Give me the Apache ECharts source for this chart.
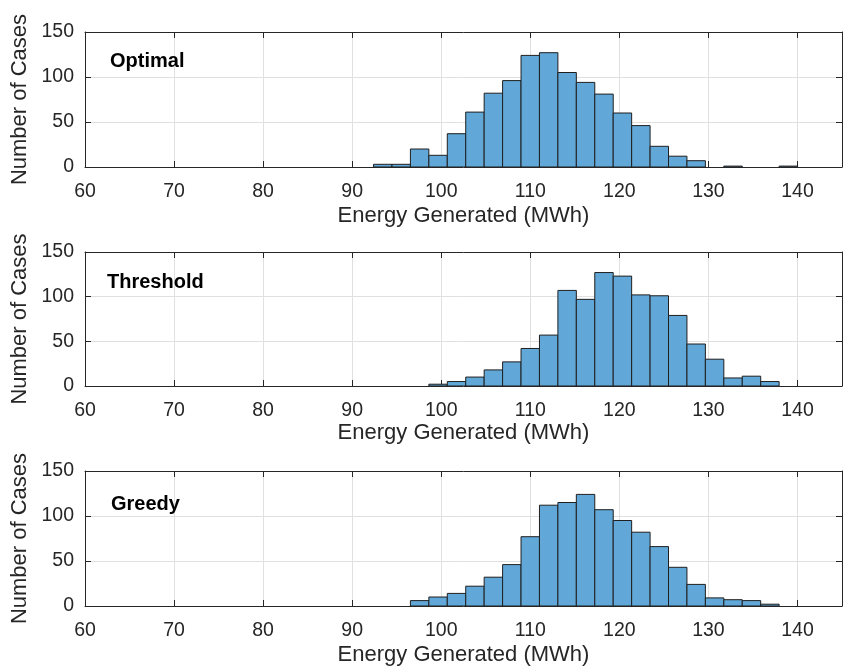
<!DOCTYPE html>
<html>
<head>
<meta charset="utf-8">
<script src="https://cdn.jsdelivr.net/npm/echarts@6/dist/echarts.min.js"></script>
<style>html,body{margin:0;padding:0;background:#fff;}#c{width:847px;height:667px;}</style>
</head>
<body>
<div id="c"></div>
<script>
// Histogram bin edges (MWh)
const binEdges = [92.40, 94.47, 96.54, 98.61, 100.68, 102.75, 104.82, 106.89, 108.96, 111.03, 113.10, 115.17,
                  117.24, 119.31, 121.38, 123.45, 125.52, 127.59, 129.66, 131.73, 133.80, 135.87, 137.94, 140.01];
// Counts per bin
const optimalCounts   = [3, 3, 20, 13, 37, 61, 82, 96, 124, 127, 105, 94, 81, 60, 46, 23, 12, 7, 0, 1, 0, 0, 1];
const thresholdCounts = [0, 0, 0, 2, 5, 10, 18, 27, 42, 57, 107, 97, 127, 123, 102, 101, 79, 47, 30, 9, 11, 5, 0];
const greedyCounts    = [0, 0, 6, 10, 14, 22, 32, 46, 77, 112, 115, 124, 107, 95, 82, 66, 43, 24, 9, 7, 6, 2, 0];
const panelNames = ['Optimal', 'Threshold', 'Greedy'];
const xTicks = [60, 70, 80, 90, 100, 110, 120, 130, 140];
const yTicks = [0, 50, 100, 150];
const xLabel = 'Energy Generated (MWh)';
const yLabel = 'Number of Cases';

const allCounts = [optimalCounts, thresholdCounts, greedyCounts];
const FONT = '"Liberation Sans", Arial, Helvetica, sans-serif';
const AX = '#262626';
const GRIDC = '#e0e0e0';
const grids = [
  {left: 85, right: 5, top: 32, height: 135},
  {left: 85, right: 5, top: 252, height: 134},
  {left: 85, right: 5, top: 471, height: 135}
];
const xNameGaps = [38, 33, 38];
const xAxes = [], yAxes = [], series = [], graphics = [];
const titlePos = [[110, 61], [107, 282.5], [111, 504]];

function renderItem(params, api) {
  const x0 = api.value(0), x1 = api.value(1), c = api.value(2);
  const p0 = api.coord([x0, c]);
  const p1 = api.coord([x1, 0]);
  return {
    type: 'rect',
    shape: {x: p0[0], y: p0[1], width: p1[0] - p0[0], height: p1[1] - p0[1]},
    style: {fill: '#61a7d7', stroke: '#1f1f1f', lineWidth: 1}
  };
}

for (let i = 0; i < 3; i++) {
  const base = {min: xTicks[0], max: 145, interval: 10, gridIndex: i, type: 'value'};
  xAxes.push(Object.assign({}, base, {
    position: 'bottom',
    axisLine: {show: true, onZero: false, lineStyle: {color: AX, width: 1}},
    axisTick: {show: true, inside: true, length: 6, lineStyle: {color: AX}},
    axisLabel: {show: true, color: AX, fontSize: 19.5, fontFamily: FONT, margin: 15,
      formatter: v => (xTicks.indexOf(v) >= 0 ? String(v) : '')},
    splitLine: {show: true, lineStyle: {color: GRIDC, width: 1}},
    name: xLabel, nameLocation: 'middle', nameGap: xNameGaps[i],
    nameTextStyle: {color: AX, fontSize: 22, fontFamily: FONT}
  }));
  xAxes.push(Object.assign({}, base, {
    position: 'top',
    axisLine: {show: true, onZero: false, lineStyle: {color: AX, width: 1}},
    axisTick: {show: true, inside: true, length: 6, lineStyle: {color: AX}},
    axisLabel: {show: false}, splitLine: {show: false}
  }));
  const ybase = {min: 0, max: 150, interval: 50, gridIndex: i, type: 'value'};
  yAxes.push(Object.assign({}, ybase, {
    position: 'left',
    axisLine: {show: true, onZero: false, lineStyle: {color: AX, width: 1}},
    axisTick: {show: true, inside: true, length: 6, lineStyle: {color: AX}},
    axisLabel: {show: true, color: AX, fontSize: 19.5, fontFamily: FONT, margin: 11,
      formatter: v => (yTicks.indexOf(v) >= 0 ? String(v) : '')},
    splitLine: {show: true, lineStyle: {color: GRIDC, width: 1}},
    name: yLabel, nameLocation: 'middle', nameGap: 47, nameRotate: 90,
    nameTextStyle: {color: AX, fontSize: 22, fontFamily: FONT}
  }));
  yAxes.push(Object.assign({}, ybase, {
    position: 'right',
    axisLine: {show: true, onZero: false, lineStyle: {color: AX, width: 1}},
    axisTick: {show: true, inside: true, length: 6, lineStyle: {color: AX}},
    axisLabel: {show: false}, splitLine: {show: false}
  }));
  const data = [];
  const counts = allCounts[i];
  for (let k = 0; k < counts.length; k++) {
    if (counts[k] > 0) data.push([binEdges[k], binEdges[k + 1], counts[k]]);
  }
  series.push({
    type: 'custom', renderItem: renderItem, xAxisIndex: 2 * i, yAxisIndex: 2 * i,
    encode: {x: [0, 1], y: 2}, data: data, clip: true, silent: true, z: 3
  });
  graphics.push({
    type: 'text', x: titlePos[i][0], y: titlePos[i][1], z: 10,
    style: {text: panelNames[i], fill: '#000', font: 'bold 20px ' + FONT, textAlign: 'left', textVerticalAlign: 'middle'}
  });
}

const chart = echarts.init(document.getElementById('c'), null, {renderer: 'canvas'});
chart.setOption({
  animation: false,
  backgroundColor: '#ffffff',
  grid: grids,
  xAxis: xAxes,
  yAxis: yAxes,
  series: series,
  graphic: graphics
});
</script>
</body>
</html>
